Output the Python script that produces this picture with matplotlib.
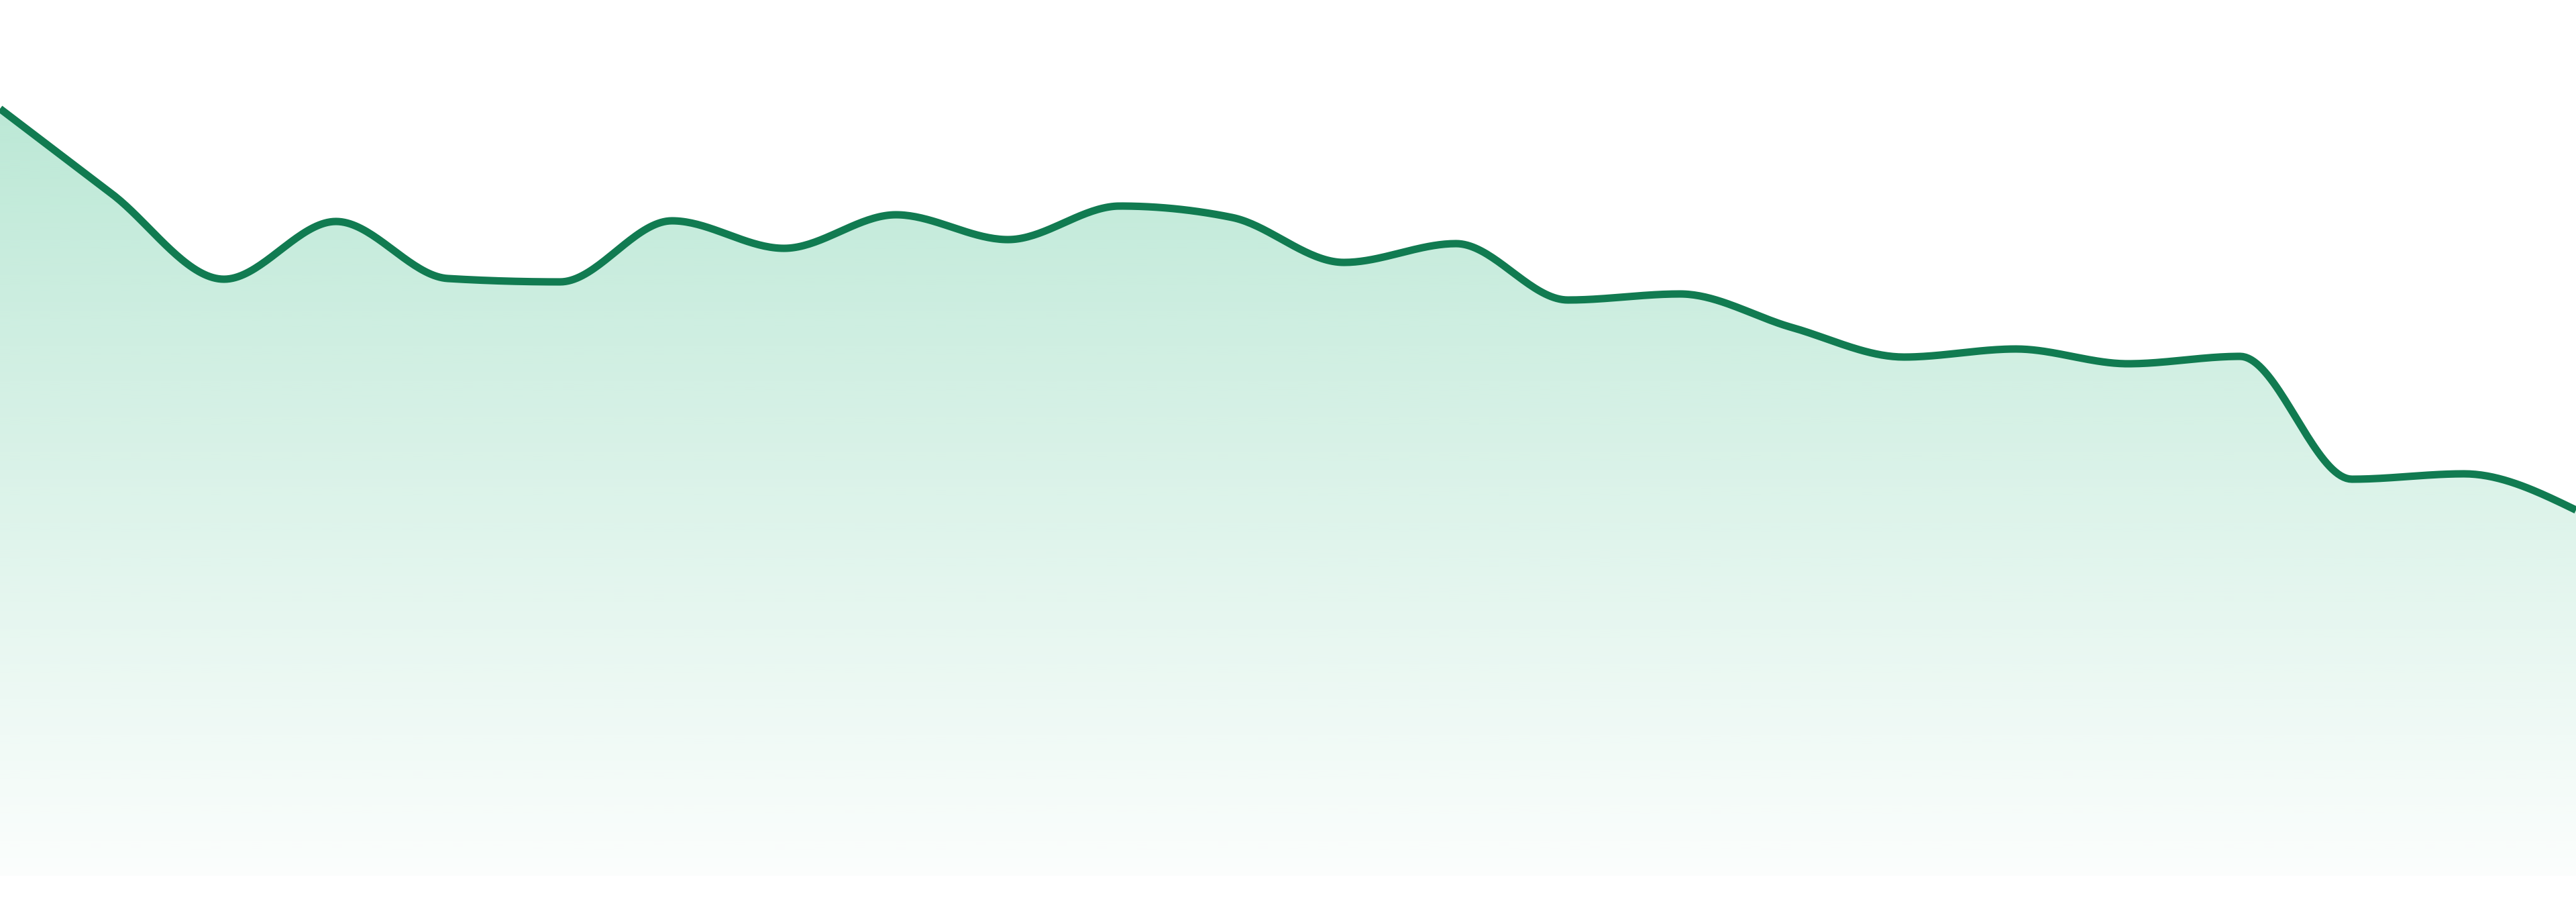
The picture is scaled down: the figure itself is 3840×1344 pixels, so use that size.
import numpy as np
import matplotlib
matplotlib.use("Agg")
import matplotlib.pyplot as plt
from matplotlib.colors import to_rgb

# ---- data ----
points = list(range(24))
values = [114.3, 101.6, 88.9, 97.5, 89.0, 88.5, 97.6, 93.5, 98.5, 94.8,
          99.8, 98.1, 91.4, 94.2, 85.8, 86.7, 81.7, 77.3, 78.5, 76.3,
          77.4, 59.1, 59.9, 54.5]
y_range = [-3.9, 130.5]

line_color = "#117b51"
fill_color = "#45c08d"


def monotone_x(x, y, n=40):
    """d3 curveMonotoneX style interpolation (Fritsch-Carlson / Steffen)."""
    x = np.asarray(x, float)
    y = np.asarray(y, float)
    h = np.diff(x)
    s = np.diff(y) / h
    m = np.zeros_like(y)
    for i in range(1, len(y) - 1):
        h0, h1 = h[i - 1], h[i]
        s0, s1 = s[i - 1], s[i]
        p = (s0 * h1 + s1 * h0) / (h0 + h1)
        m[i] = (np.sign(s0) + np.sign(s1)) * min(abs(s0), abs(s1), 0.5 * abs(p))
    m[0] = (3 * s[0] - m[1]) / 2
    m[-1] = (3 * s[-1] - m[-2]) / 2
    xs, ys = [], []
    for i in range(len(y) - 1):
        t = np.linspace(0, 1, n, endpoint=(i == len(y) - 2))
        hh = h[i]
        h00 = 2 * t**3 - 3 * t**2 + 1
        h10 = t**3 - 2 * t**2 + t
        h01 = -2 * t**3 + 3 * t**2
        h11 = t**3 - t**2
        xs.append(x[i] + t * hh)
        ys.append(h00 * y[i] + h10 * hh * m[i] + h01 * y[i + 1] + h11 * hh * m[i + 1])
    return np.concatenate(xs), np.concatenate(ys)


fig = plt.figure(figsize=(38.4, 13.44), dpi=100)
ax = fig.add_axes([0, 0, 1, 1])
ax.set_xlim(points[0], points[-1])
ax.set_ylim(*y_range)
ax.axis("off")

xs, ys = monotone_x(points, values)

# gradient fill
top = max(values)
poly = ax.fill_between(xs, 0, ys, color="none", lw=0)
grad = np.linspace(0, 1, 512).reshape(-1, 1)  # 0 at bottom -> 1 at top
rgba = np.zeros((512, 1, 4))
rgba[..., :3] = to_rgb(fill_color)
rgba[..., 3] = 0.02 + 0.34 * grad
img = ax.imshow(rgba, extent=[points[0], points[-1], 0, top], origin="lower",
                aspect="auto", interpolation="bilinear", zorder=1)
clip = poly.get_paths()[0]
img.set_clip_path(clip, transform=ax.transData)

ax.plot(xs, ys, color=line_color, lw=8, solid_capstyle="butt", zorder=3)

fig.savefig("out.png", dpi=100, facecolor="white")
